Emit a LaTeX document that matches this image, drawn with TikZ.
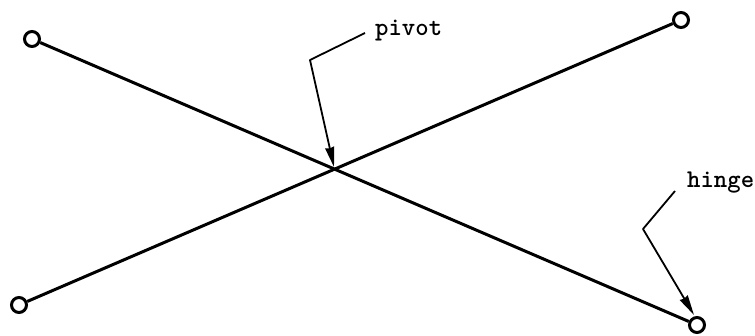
\documentclass[tikz,border=0pt]{standalone}
\usepackage{fontspec}
\usetikzlibrary{arrows.meta}
\tikzset{
  x=1pt,y=-1pt,
  joint/.style={circle,draw,line width=3pt,minimum size=15pt,inner sep=0pt,fill=white},
  bar/.style={line width=3pt},
  leader/.style={line width=1.8pt,line join=round,-{Stealth[length=20pt,width=9pt,inset=1pt]}},
  tagtext/.style={font=\fontsize{25.5}{28}\selectfont\ttfamily\bfseries,inner sep=0pt,anchor=base west}
}
\begin{document}
\begin{tikzpicture}
\useasboundingbox (0,0) rectangle (755,335);
\coordinate (pivtip) at (334,167);
\coordinate (lrtip) at (694,315);
\coordinate (b1) at (310,60);
\coordinate (s1) at (365,33);
\coordinate (b2) at (643,229);
\coordinate (s2) at (675,191);
\coordinate (ulc) at (32,39);
\coordinate (lrc) at (697,325);
\coordinate (llc) at (19,305);
\coordinate (urc) at (681,20);
\node[joint] (ul) at (ulc) {};
\node[joint] (ur) at (urc) {};
\node[joint] (ll) at (llc) {};
\node[joint] (lr) at (lrc) {};
\draw[bar] (ul) -- (lr);
\draw[bar] (ll) -- (ur);
\node[tagtext] (pivottext) at (375,35) {pivot};
\node[tagtext] (hingetext) at (687,187) {hinge};
\draw[leader] (s1) -- (b1) -- (pivtip);
\draw[leader] (s2) -- (b2) -- (lrtip);
\end{tikzpicture}
\end{document}
